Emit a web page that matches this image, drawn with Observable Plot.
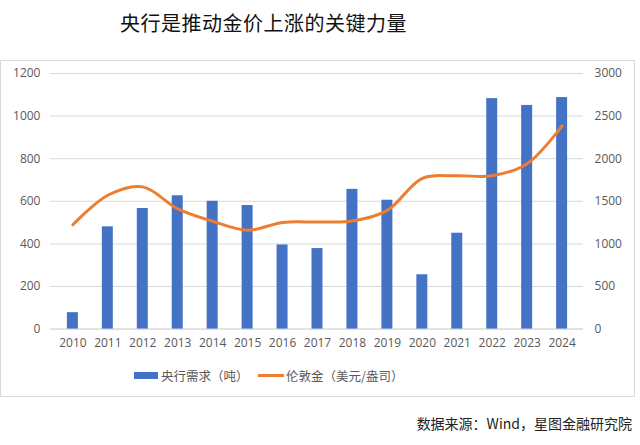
<!DOCTYPE html>
<html><head><meta charset="utf-8">
<script src="https://cdn.jsdelivr.net/npm/d3@7"></script>
<script src="https://cdn.jsdelivr.net/npm/@observablehq/plot@0.6"></script>
<style>
body{margin:0;background:#fff;font-family:"Noto Sans CJK SC","Noto Sans",sans-serif;width:640px;height:445px;position:relative;overflow:hidden}
#title{position:absolute;left:120px;top:8px;font-size:20px;font-weight:400;color:#111;letter-spacing:0.5px}
#box{position:absolute;left:0;top:60px;width:635px;height:337px;border:1px solid #d9d9d9;box-sizing:border-box}
#legend{position:absolute;top:305px;left:0;width:100%;font-size:12.5px;color:#595959}
.lg{position:absolute;display:flex;align-items:center}
#caption{position:absolute;right:8px;top:413px;font-size:14px;color:#222}
svg text{font-family:"Open Sans","Noto Sans",sans-serif}
</style></head>
<body>
<div id="title">央行是推动金价上涨的关键力量</div>
<div id="box"><div id="chart"></div>
<div id="legend">
<div class="lg" style="left:133px"><span style="display:inline-block;width:24px;height:7px;background:#4472C4;margin-right:3px"></span>央行需求（吨）</div>
<div class="lg" style="left:257px"><span style="display:inline-block;width:26px;height:3px;background:#ED7D31;margin-right:2px"></span>伦敦金（美元/盎司）</div>
</div></div>
<div id="caption">数据来源：Wind，星图金融研究院</div>
<script>
const years = ["2010","2011","2012","2013","2014","2015","2016","2017","2018","2019","2020","2021","2022","2023","2024"];
const demand = [77,480,566,626,600,580,395,378,656,605,255,450,1082,1050,1087];
const gold = [1224,1571,1669,1411,1266,1160,1251,1257,1268,1393,1770,1799,1800,1941,2386];
const leftTicks = [0,200,400,600,800,1000,1200];
const ratio = 3000/1200;
const data = years.map((y,i)=>({year:y, demand:demand[i], gold:gold[i], goldScaled:gold[i]/ratio}));
const chart = Plot.plot({
  width: 634, height: 295,
  marginTop: 12, marginBottom: 27, marginLeft: 49, marginRight: 51,
  style:{fontSize:"12px", color:"#595959", background:"transparent"},
  x:{domain:years, paddingInner:0.69, paddingOuter:0.345, label:null},
  y:{domain:[0,1200], label:null},
  marks:[
    Plot.gridY(leftTicks,{stroke:"#d9d9d9", strokeOpacity:1}),
    Plot.ruleY([0],{stroke:"#d9d9d9"}),
    Plot.barY(data,{x:"year", y:"demand", fill:"#4472C4"}),
    Plot.line(data,{x:"year", y:"goldScaled", stroke:"#ED7D31", strokeWidth:3, curve:"catmull-rom"}),
    Plot.axisX({tickSize:0, tickPadding:9, label:null, fill:"#595959"}),
    Plot.axisY(leftTicks,{anchor:"left", tickSize:0, tickPadding:10, label:null, tickFormat:d=>String(d), fill:"#595959"}),
    Plot.axisY(leftTicks,{anchor:"right", tickSize:0, tickPadding:11, label:null, tickFormat:d=>String(d*ratio), fill:"#595959", textAnchor:"start"})
  ]
});
document.getElementById("chart").appendChild(chart);
</script>
</body></html>
